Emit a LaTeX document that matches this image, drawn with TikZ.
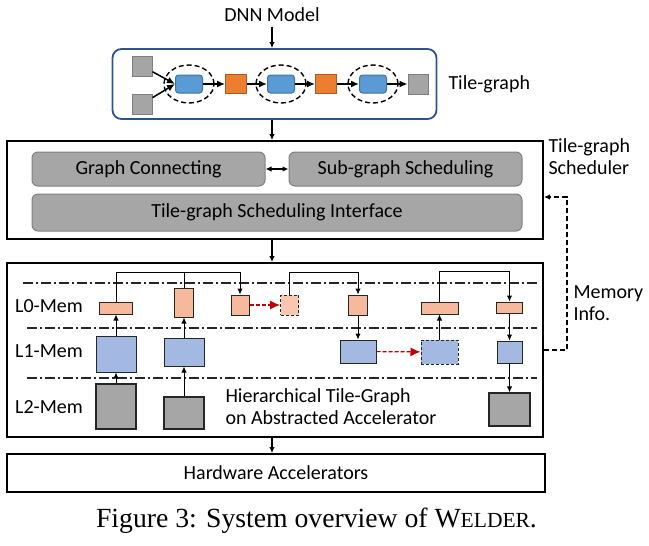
\documentclass[tikz,border=0pt]{standalone}
\usepackage{fontspec}
\setmainfont{Carlito}
\newfontfamily\capfont{Liberation Serif}
\usetikzlibrary{arrows.meta,shapes.geometric,positioning}

\definecolor{tgframe}{HTML}{2F528F}
\definecolor{tgblue}{HTML}{5B9BD5}
\definecolor{tgblued}{HTML}{41719C}
\definecolor{tgorange}{HTML}{ED7D31}
\definecolor{tgoranged}{HTML}{AE5A21}
\definecolor{tggray}{HTML}{A5A5A5}
\definecolor{tggrayd}{HTML}{7F7F7F}
\definecolor{memsalmon}{HTML}{F6B99C}
\definecolor{memblue}{HTML}{A3B9E1}
\definecolor{memgray}{HTML}{A6A6A6}
\definecolor{movered}{HTML}{C00000}

\tikzset{
  txt/.style={font=\fontsize{20}{22}\selectfont, inner sep=0pt},
  frame/.style={draw, line width=1.8pt, inner sep=0pt},
  gsq/.style={fill=tggray, draw=tggrayd, minimum size=20, inner sep=0pt},
  osq/.style={fill=tgorange, draw=tgoranged, minimum width=21, minimum height=19, inner sep=0pt},
  bbox/.style={fill=tgblue, draw=tgblued, rounded corners=3pt, minimum width=27, minimum height=18, inner sep=0pt},
  subg/.style={draw, dash pattern=on 5pt off 3pt, line width=1.4pt, ellipse, minimum width=50, minimum height=38, inner sep=0pt},
  sbox/.style={txt, fill=memgray, draw=tggrayd, rounded corners=6pt, minimum height=34},
  lzero/.style={fill=memsalmon, draw=black!85, inner sep=0pt},
  lone/.style={fill=memblue, draw=black!85, inner sep=0pt},
  ltwo/.style={fill=memgray, draw=black!85, line width=1.2pt, inner sep=0pt},
  dashdot/.style={dash pattern=on 10pt off 3pt on 2pt off 3pt, line width=1.1pt, black!85},
  move/.style={movered, dash pattern=on 4pt off 2pt, line width=1.2pt, -{Latex[length=10pt,width=9pt]}},
  flow/.style={line width=1.3pt, ->}
}

\begin{document}
\begin{tikzpicture}[x=1pt,y=-1pt, line width=1pt, >={Latex[length=6pt,width=5.5pt]}]
\useasboundingbox (0,0) rectangle (649,546);

%input
\node[txt] (dnn) at (272,15) {DNN Model};

%tile-graph
\node[draw=tgframe, line width=1.8pt, rounded corners=9pt, minimum width=324, minimum height=70] (tg) at (274.5,84) {};
\node[txt, anchor=west] (tglbl) at (448,84) {Tile-graph};
\node[gsq] (g1) at (142,66) {};
\node[gsq] (g2) at (142,104) {};
\foreach \n/\x in {1/189,2/281,3/373}{
\node[subg] (e\n) at (\x,84) {};
\node[bbox] (b\n) at (\x,84) {};
}
\node[osq] (o1) at (236,84) {};
\node[osq] (o2) at (326,84) {};
\node[gsq] (g3) at (418,84) {};
\foreach \a/\b in {g1/b1,g2/b1,b1/o1,o1/b2,b2/o2,o2/b3,b3/g3}{
\draw[line width=1.5pt,-{Latex[length=8pt,width=7pt]}] (\a) -- (\b.west);
}

%scheduler
\node[frame, minimum width=536, minimum height=98] (sched) at (275,190) {};
\node[txt, anchor=west, align=left] (schedlbl) at (548,157) {Tile-graph\\Scheduler};
\node[sbox, minimum width=233] (gc) at (148.5,169) {Graph Connecting};
\node[sbox, minimum width=233] (sg) at (405.5,169) {Sub-graph Scheduling};
\node[sbox, minimum width=490, minimum height=37] (tsi) at (277,212.5) {Tile-graph Scheduling Interface};
\draw[line width=1.4pt,<->] (gc) -- (sg);

%hierarchical tile-graph
\node[frame, minimum width=536, minimum height=174] (hier) at (275,350) {};
\draw[dashdot] (23,283) -- (537,283);
\foreach \y in {328,378}{
\draw[dashdot] (27,\y) -- (537,\y);
}
\node[txt] (l0) at (49,306) {L0-Mem};
\node[txt] (l1) at (49,351) {L1-Mem};
\node[txt] (l2) at (49,407) {L2-Mem};
\node[txt, anchor=west, align=left] (htxt) at (225,407) {Hierarchical Tile-Graph\\on Abstracted Accelerator};

\node[lzero, minimum width=33, minimum height=12] (a0) at (116,308) {};
\node[lone, minimum width=40, minimum height=36] (a1) at (116,354) {};
\node[ltwo, minimum width=40, minimum height=45] (a2) at (116,406.5) {};
\node[lzero, minimum width=19, minimum height=29] (b0) at (184,302.5) {};
\node[lone, minimum width=40, minimum height=28] (b1) at (184,352) {};
\node[ltwo, minimum width=40, minimum height=32] (b2) at (184,413) {};
\node[lzero, minimum width=18, minimum height=20] (c0) at (240,305) {};
\node[lzero, fill=memsalmon!80, densely dashed, minimum width=18, minimum height=20] (c0x) at (289.5,305) {};
\node[lzero, minimum width=19, minimum height=20] (d0) at (358,305) {};
\node[lone, minimum width=36, minimum height=23] (d1) at (358,351.5) {};
\node[lone, densely dashed, minimum width=37, minimum height=24] (e1) at (439.5,352) {};
\node[lzero, minimum width=37, minimum height=12] (e0) at (439.5,308) {};
\node[lzero, minimum width=26, minimum height=11] (f0) at (509.5,307.5) {};
\node[lone, minimum width=25, minimum height=22] (f1) at (509.5,352) {};
\node[ltwo, minimum width=41, minimum height=33] (f2) at (509.5,409.5) {};

\foreach \a/\b in {a2/a1,a1/a0,b2/b1,b1/b0,e1/e0,d0/d1,f0/f1,f1/f2}{
\draw[->] (\a) -- (\b);
}
\coordinate (j1) at (240,272);
\coordinate (j2) at (358,272);
\coordinate (j3) at (509.5,271);
\draw[->] (a0.north) |- (j1) -- (c0.north);
\draw (b0.north) -- (b0.north |- j1);
\draw[->] (c0x.north) |- (j2) -- (d0.north);
\draw[->] (e0.north) |- (j3) -- (f0.north);
\draw[move] (c0) -- (c0x);
\draw[move] (d1) -- (e1);

%memory info
\coordinate (mi) at (567,197);
\draw[line width=1.4pt, dash pattern=on 5pt off 3pt, ->] (hier.east) -| (mi) -- (sched.east |- mi);
\node[txt, anchor=west, align=left] (milbl) at (573,303) {Memory\\Info.};

%hardware
\node[frame, txt, minimum width=538, minimum height=38] (hw) at (276,473) {Hardware Accelerators};

%vertical flow
\draw[flow] ([yshift=-4pt]dnn.south) -- (dnn.south |- tg.north);
\draw[flow] (tg.south -| dnn.south) -- (sched.north -| dnn.south);
\draw[flow] (sched.south -| dnn.south) -- (hier.north -| dnn.south);
\draw[flow] (hier.south -| dnn.south) -- (hw.north -| dnn.south);

%caption
\node[font=\capfont\fontsize{27.7}{30}\selectfont, inner sep=0pt] (cap) at (316.5,521) {Figure 3: System overview of W{\fontsize{21.5}{22}\selectfont ELDER}.};
\end{tikzpicture}
\end{document}
